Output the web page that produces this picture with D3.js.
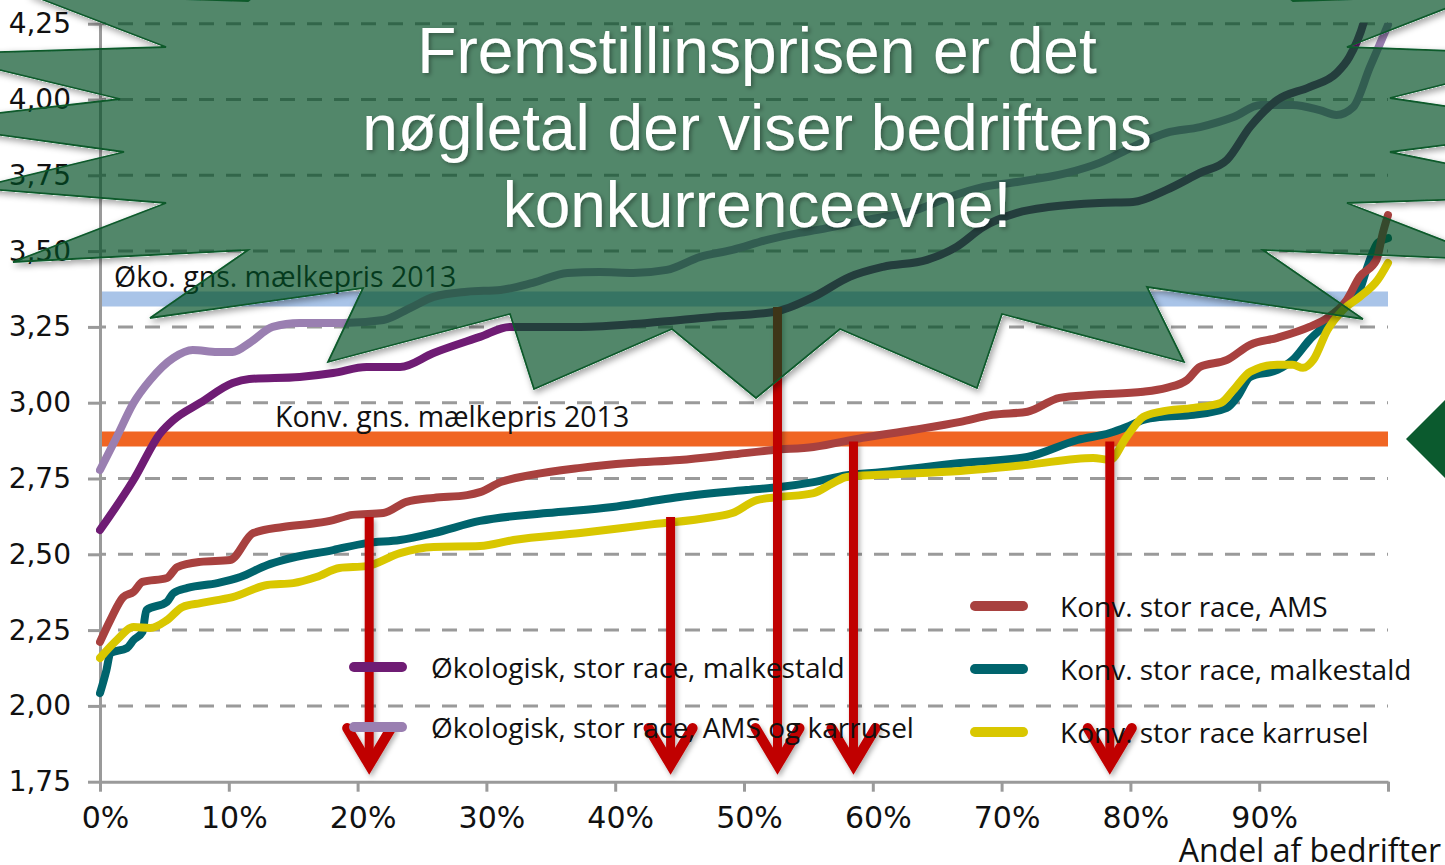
<!DOCTYPE html>
<html lang="da">
<head>
<meta charset="UTF-8">
<title>Fremstillingspris</title>
<script src="https://d3js.org/d3.v7.min.js"></script>
<style>
  html, body { margin: 0; padding: 0; background: #fff; overflow: hidden; }
  svg { display: block; }
</style>
</head>
<body>
<svg id="chart" width="1445" height="865"></svg>
<script>
// kr. pr. kg maelk mod andel af bedrifter (%)
const xTicks = [0, 10, 20, 30, 40, 50, 60, 70, 80, 90, 100];
const xTickLabels = ["0%", "10%", "20%", "30%", "40%", "50%", "60%", "70%", "80%", "90%", ""];
const yTicks = [1.75, 2.0, 2.25, 2.5, 2.75, 3.0, 3.25, 3.5, 3.75, 4.0, 4.25];
const yTickLabels = ["1,75", "2,00", "2,25", "2,50", "2,75", "3,00", "3,25", "3,50", "3,75", "4,00", "4,25"];

const okoMalkestald = [[0, 2.58], [2.6, 2.745], [4.7, 2.9], [5.7, 2.943], [7.8, 3.0], [10.3, 3.065], [11.6, 3.078],
  [15.5, 3.085], [18.1, 3.098], [20.7, 3.118], [23.3, 3.118], [25.9, 3.164], [29.5, 3.217], [31.8, 3.25],
  [37.3, 3.25], [42.5, 3.263], [47.6, 3.283], [52.3, 3.299], [55.4, 3.349], [58.2, 3.415], [60.8, 3.448],
  [64.2, 3.471], [66.5, 3.514], [68.6, 3.58], [71.2, 3.626], [73.8, 3.646], [77.6, 3.659], [80.2, 3.662],
  [82.8, 3.702], [85.4, 3.758], [87.5, 3.801], [89.3, 3.91], [91.4, 3.998], [93.9, 4.041], [96.0, 4.087],
  [97.0, 4.14], [98.1, 4.252], [99.0, 4.42]];

const okoAmsKarrusel = [[0, 2.778], [1.3, 2.887], [2.6, 2.999], [3.9, 3.075], [5.7, 3.148], [7.2, 3.174],
  [9.1, 3.167], [10.3, 3.167], [11.6, 3.197], [13.4, 3.25], [15.5, 3.263], [18.9, 3.263], [22.0, 3.273],
  [24.1, 3.313], [25.9, 3.349], [28.5, 3.366], [31.1, 3.372], [33.6, 3.395], [36.3, 3.428], [38.8, 3.431],
  [41.4, 3.428], [44.0, 3.438], [46.6, 3.481], [49.1, 3.504], [51.8, 3.537], [54.3, 3.56], [55.7, 3.57],
  [59.5, 3.603], [63.4, 3.636], [66.0, 3.679], [68.6, 3.712], [71.2, 3.728], [75.1, 3.758], [77.6, 3.791],
  [80.2, 3.844], [82.8, 3.89], [85.4, 3.909], [88.0, 3.942], [90.1, 3.982], [92.6, 3.982], [94.7, 3.965],
  [96.0, 3.949], [97.3, 3.975], [98.6, 4.107], [99.6, 4.206], [100, 4.246]];

const konvAms = [[0, 2.211], [0.8, 2.283], [1.8, 2.359], [2.6, 2.376], [3.3, 2.409], [5.2, 2.422], [6.0, 2.458],
  [7.8, 2.475], [10.1, 2.481], [11.9, 2.57], [14.2, 2.59], [16.8, 2.603], [18.1, 2.613], [19.6, 2.63],
  [22.0, 2.636], [23.8, 2.673], [25.9, 2.686], [28.5, 2.695], [29.5, 2.705], [31.1, 2.738], [33.4, 2.761],
  [37.3, 2.785], [41.1, 2.801], [45.0, 2.811], [48.9, 2.828], [52.3, 2.844], [55.4, 2.854], [59.2, 2.884],
  [63.1, 2.91], [66.8, 2.937], [69.3, 2.96], [72.0, 2.97], [74.5, 3.016], [77.1, 3.026], [81.0, 3.036],
  [82.8, 3.049], [84.4, 3.075], [85.4, 3.118], [87.5, 3.141], [89.3, 3.191], [91.4, 3.214], [93.9, 3.25],
  [95.3, 3.28], [96.8, 3.339], [97.8, 3.415], [99.1, 3.471], [99.6, 3.56], [100, 3.619]];

const konvMalkestald = [[0, 2.042], [0.5, 2.118], [0.8, 2.174], [2.1, 2.191], [2.6, 2.217], [3.3, 2.244],
  [3.6, 2.316], [5.2, 2.343], [5.7, 2.372], [6.8, 2.389], [9.1, 2.405], [10.9, 2.425], [13.0, 2.465],
  [14.2, 2.481], [18.1, 2.514], [20.7, 2.537], [23.3, 2.547], [25.9, 2.57], [29.5, 2.61], [34.7, 2.636],
  [39.8, 2.656], [42.5, 2.673], [45.0, 2.689], [50.2, 2.712], [52.8, 2.722], [55.4, 2.738], [58.0, 2.761],
  [60.6, 2.771], [66.8, 2.801], [72.0, 2.821], [75.9, 2.877], [78.4, 2.9], [79.7, 2.92], [81.0, 2.943],
  [82.3, 2.953], [84.9, 2.96], [87.5, 2.983], [88.3, 3.019], [89.3, 3.085], [91.4, 3.108], [92.6, 3.141],
  [93.9, 3.207], [95.3, 3.263], [96.5, 3.316], [97.8, 3.372], [98.4, 3.448], [99.2, 3.527], [100, 3.543]];

const konvKarrusel = [[0, 2.158], [1.3, 2.217], [2.6, 2.26], [3.9, 2.257], [5.2, 2.283], [6.4, 2.326],
  [7.8, 2.339], [9.1, 2.349], [10.3, 2.359], [13.0, 2.399], [15.0, 2.405], [16.8, 2.425], [18.6, 2.455],
  [20.7, 2.461], [23.3, 2.504], [25.9, 2.524], [29.5, 2.527], [32.1, 2.547], [37.3, 2.57], [42.5, 2.597],
  [47.6, 2.623], [49.1, 2.636], [51.0, 2.679], [52.8, 2.689], [55.4, 2.702], [56.9, 2.735], [58.0, 2.755],
  [60.6, 2.762], [66.8, 2.775], [72.0, 2.795], [77.1, 2.818], [78.4, 2.811], [79.7, 2.887], [81.0, 2.953],
  [82.3, 2.97], [84.9, 2.983], [87.0, 2.999], [88.0, 3.042], [89.3, 3.102], [91.4, 3.125], [92.6, 3.125],
  [93.4, 3.115], [94.2, 3.141], [95.3, 3.24], [96.5, 3.306], [97.8, 3.349], [99.2, 3.405], [100, 3.461]];

// gennemsnitlige maelkepriser 2013 og omkostningsniveau
const okoPris = 3.342;
const konvPris = 2.88;
const omkPris = 2.635;

// pile: andel (%) og startvaerdi
const arrowPct = [20.9, 44.3, 52.6, 58.5, 78.4];
const arrowTop = [2.623, 2.623, 3.316, 2.872, 2.872];
const arrowEnd = 1.785;

const svg = d3.select("#chart");
const x = d3.scaleLinear().domain([0, 100]).range([100, 1388]);
const y = d3.scaleLinear().domain([1.75, 4.25]).range([781.7, 23.7]);
const textFont = "'Open Sans', 'Noto Sans', sans-serif";
const numFont = "'DejaVu Sans', sans-serif";

const defs = svg.append("defs");
defs.append("clipPath").attr("id", "plotClip")
  .append("rect").attr("x", 96).attr("y", y(4.25) - 1).attr("width", 1300).attr("height", 780);

const shadow = defs.append("filter").attr("id", "shadow")
  .attr("x", "-20%").attr("y", "-20%").attr("width", "140%").attr("height", "140%");
shadow.append("feDropShadow").attr("dx", 2).attr("dy", 3).attr("stdDeviation", 2.5)
  .attr("flood-color", "#000").attr("flood-opacity", 0.3);

const txtShadow = defs.append("filter").attr("id", "txtShadow")
  .attr("x", "-10%").attr("y", "-20%").attr("width", "120%").attr("height", "140%");
txtShadow.append("feDropShadow").attr("dx", 2).attr("dy", 2).attr("stdDeviation", 2)
  .attr("flood-color", "#000").attr("flood-opacity", 0.35);

// skygge kun uden for den halvgennemsigtige stjerne
const burstShadow = defs.append("filter").attr("id", "burstShadow")
  .attr("x", "-10%").attr("y", "-10%").attr("width", "120%").attr("height", "130%");
const solid = burstShadow.append("feComponentTransfer").attr("in", "SourceAlpha").attr("result", "solid");
solid.append("feFuncA").attr("type", "linear").attr("slope", 10);
burstShadow.append("feGaussianBlur").attr("in", "solid").attr("stdDeviation", 3).attr("result", "blur");
burstShadow.append("feOffset").attr("in", "blur").attr("dx", 2).attr("dy", 3).attr("result", "off");
burstShadow.append("feComposite").attr("in", "off").attr("in2", "solid").attr("operator", "out").attr("result", "outside");
burstShadow.append("feFlood").attr("flood-color", "#000").attr("flood-opacity", 0.35).attr("result", "col");
burstShadow.append("feComposite").attr("in", "col").attr("in2", "outside").attr("operator", "in").attr("result", "sh");
const merge = burstShadow.append("feMerge");
merge.append("feMergeNode").attr("in", "sh");
merge.append("feMergeNode").attr("in", "SourceGraphic");

// gitterlinjer
svg.append("g")
  .selectAll("line")
  .data(yTicks.filter(d => d > 1.75))
  .enter()
  .append("line")
  .attr("x1", x(0)).attr("x2", x(100))
  .attr("y1", d => y(d)).attr("y2", d => y(d))
  .attr("stroke", "#9a9a9a")
  .attr("stroke-width", 3)
  .attr("stroke-dasharray", "15 12")
  .attr("stroke-dashoffset", 9);

// prisbaand
svg.append("line")
  .attr("x1", x(0)).attr("x2", x(100))
  .attr("y1", y(okoPris)).attr("y2", y(okoPris))
  .attr("stroke", "#a9c4e8").attr("stroke-width", 15);
svg.append("line")
  .attr("x1", x(0)).attr("x2", x(100))
  .attr("y1", y(konvPris)).attr("y2", y(konvPris))
  .attr("stroke", "#f06523").attr("stroke-width", 15);

svg.append("text")
  .attr("x", 114).attr("y", y(okoPris) - 12)
  .attr("font-family", textFont).attr("font-size", 28.5).attr("fill", "#111")
  .text("Øko. gns. mælkepris 2013");
svg.append("text")
  .attr("x", 275).attr("y", y(konvPris) - 12)
  .attr("font-family", textFont).attr("font-size", 28.5).attr("fill", "#111")
  .text("Konv. gns. mælkepris 2013");

// akser
const yAxis = svg.append("g")
  .attr("transform", `translate(${x(0)},0)`)
  .call(d3.axisLeft(y).tickValues(yTicks).tickFormat((d, i) => yTickLabels[i])
    .tickSize(12).tickSizeOuter(0).tickPadding(17));
const xAxis = svg.append("g")
  .attr("transform", `translate(0,${y(1.75)})`)
  .call(d3.axisBottom(x).tickValues(xTicks).tickFormat((d, i) => xTickLabels[i])
    .tickSize(10).tickSizeOuter(0).tickPadding(15));

[yAxis, xAxis].forEach(a => {
  a.select(".domain").attr("stroke", "#9a9a9a").attr("stroke-width", 3);
  a.selectAll(".tick line").attr("stroke", "#9a9a9a").attr("stroke-width", 3);
  a.selectAll("text").attr("font-family", numFont).attr("fill", "#111");
});
yAxis.selectAll("text").attr("font-size", 28);
xAxis.selectAll("text").attr("font-size", 30).attr("dx", 5);

svg.append("text")
  .attr("x", 1441).attr("y", 862)
  .attr("text-anchor", "end")
  .attr("font-family", textFont).attr("font-size", 32).attr("fill", "#111")
  .text("Andel af bedrifter");

// kurver
const series = [
  { name: "Økologisk, stor race, AMS og karrusel", values: okoAmsKarrusel, color: "#9a7fb1" },
  { name: "Økologisk, stor race, malkestald", values: okoMalkestald, color: "#6f1c74" },
  { name: "Konv. stor race, malkestald", values: konvMalkestald, color: "#00646d" },
  { name: "Konv. stor race, AMS", values: konvAms, color: "#a8413f" },
  { name: "Konv. stor race karrusel", values: konvKarrusel, color: "#d9c700" }
];

const line = d3.line()
  .x(d => x(d[0]))
  .y(d => y(d[1]))
  .curve(d3.curveMonotoneX);

svg.append("g")
  .attr("clip-path", "url(#plotClip)")
  .selectAll("path")
  .data(series)
  .enter()
  .append("path")
  .attr("d", d => line(d.values))
  .attr("fill", "none")
  .attr("stroke", d => d.color)
  .attr("stroke-width", 8)
  .attr("stroke-linejoin", "round")
  .attr("stroke-linecap", "round");

// omkostningsniveau
svg.append("line")
  .attr("x1", x(-0.25)).attr("x2", x(99.6))
  .attr("y1", y(omkPris)).attr("y2", y(omkPris))
  .attr("stroke", "#e85c0e")
  .attr("stroke-width", 12)
  .attr("stroke-dasharray", "32 11")
  .attr("filter", "url(#shadow)");

// pile
const arrows = svg.append("g")
  .selectAll("g")
  .data(arrowPct.map((p, i) => ({ p, top: arrowTop[i] })))
  .enter()
  .append("g")
  .attr("filter", "url(#shadow)");

arrows.append("line")
  .attr("x1", d => x(d.p)).attr("x2", d => x(d.p))
  .attr("y1", d => y(d.top)).attr("y2", y(arrowEnd) - 6)
  .attr("stroke", "#c00000").attr("stroke-width", 9);
arrows.append("path")
  .attr("d", d => `M${x(d.p) - 22},${y(arrowEnd) - 43}L${x(d.p)},${y(arrowEnd) - 6}L${x(d.p) + 22},${y(arrowEnd) - 43}`)
  .attr("fill", "none")
  .attr("stroke", "#c00000").attr("stroke-width", 10)
  .attr("stroke-linecap", "round");

// signaturforklaring
const legendLeft = [series[1], series[0]];
const legendRight = [series[3], series[2], series[4]];

function drawLegend(items, sx, tx, y0, step) {
  const g = svg.append("g");
  const row = g.selectAll("g").data(items).enter().append("g")
    .attr("transform", (d, i) => `translate(0,${y0 + i * step})`);
  row.append("line")
    .attr("x1", sx).attr("x2", sx + 48)
    .attr("stroke", d => d.color).attr("stroke-width", 10)
    .attr("stroke-linecap", "round");
  row.append("text")
    .attr("x", tx).attr("y", 11)
    .attr("font-family", textFont).attr("font-size", 28).attr("fill", "#111")
    .text(d => d.name);
}
drawLegend(legendLeft, 354, 431, 667, 60);
drawLegend(legendRight, 975, 1060, 606, 63);

// stjerne med budskab
const burst = [[28, -6], [248, 1], [400, -120], [757, -40], [1150, -120], [1293, 1], [1480, -5],
  [1347, 47], [1560, 55], [1390, 98], [1588, 127], [1390, 152], [1600, 195], [1347, 203], [1494, 260],
  [1263, 250], [1363, 319], [1147, 287], [1184, 362], [1002, 314], [977, 388], [840, 329], [756, 398],
  [672, 329], [534, 389], [510, 314], [328, 362], [363, 288], [150, 318], [248, 250], [13, 262],
  [166, 203], [-25, 188], [124, 152], [-87, 123], [120, 99], [-66, 54], [166, 47]];

svg.append("polygon")
  .attr("points", burst.map(p => p.join(",")).join(" "))
  .attr("fill", "#084d24").attr("fill-opacity", 0.68)
  .attr("stroke", "#0a5a2c").attr("stroke-width", 1.8)
  .attr("filter", "url(#burstShadow)");

const msg = ["Fremstillinsprisen er det", "nøgletal der viser bedriftens", "konkurrenceevne!"];
svg.append("g")
  .attr("filter", "url(#txtShadow)")
  .selectAll("text")
  .data(msg)
  .enter()
  .append("text")
  .attr("x", 757).attr("y", (d, i) => 73 + i * 77)
  .attr("text-anchor", "middle")
  .attr("font-family", "'Liberation Sans', Arial, sans-serif")
  .attr("font-size", 64)
  .attr("fill", "#fff")
  .text(d => d);

// groen pil i hoejre kant
svg.append("polygon")
  .attr("points", "1406,439 1462,383 1462,495")
  .attr("fill", "#0b5a2e");
</script>
</body>
</html>
